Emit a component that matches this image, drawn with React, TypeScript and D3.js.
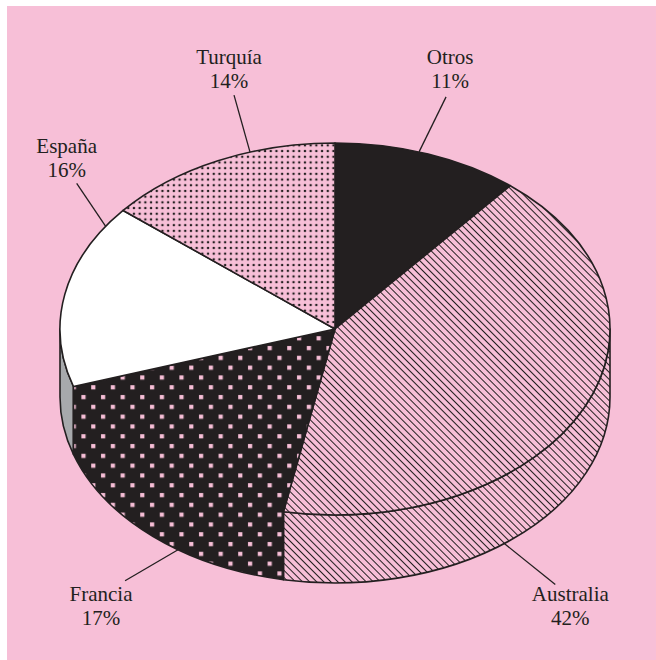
import * as d3 from 'd3';
import React, { useEffect, useRef } from 'react';

const categories = ['Otros', 'Australia', 'Francia', 'España', 'Turquía'];
const shares = [11, 42, 17, 16, 14];
const shareLabels = ['11%', '42%', '17%', '16%', '14%'];

const PINK = '#f7bfd7';
const INK = '#231f20';
const GREY = '#a7a9ac';

const fills = {
  Otros: INK,
  Australia: 'url(#hatch)',
  Francia: 'url(#squares)',
  España: '#ffffff',
  Turquía: 'url(#dots)',
};
// side colour where it differs from the top
const sideFills = { España: GREY };
// this slice is drawn as one shape with its side (no edge between)
const merged = 'Francia';

// leader: angle on the ellipse, which rim, end offset; text offset from the leader end
const labelLayout = {
  Otros: { angle: 17.8, rim: 'top', lx: 27, ly: -55, tx: 4, ty: -33 },
  Turquía: { angle: 342, rim: 'top', lx: -16, ly: -57, tx: -5, ty: -31 },
  España: { angle: 303.5, rim: 'top', lx: -29, ly: -43, tx: -10, ty: -30 },
  Francia: { angle: 214.8, rim: 'bottom', lx: -53, ly: 31, tx: -24, ty: 20 },
  Australia: { angle: 142, rim: 'bottom', lx: 51, ly: 41, tx: 15, ty: 16 },
};

const App = () => {
  const svgRef = useRef(null);

  useEffect(() => {
    const svg = d3.select(svgRef.current);
    svg.selectAll('*').remove();

    const cx = 335, cy = 329, rx = 275, ry = 186, depth = 68;
    const top = (a) => [cx + rx * Math.sin(a), cy - ry * Math.cos(a)];
    const bot = (a) => [cx + rx * Math.sin(a), cy + depth - ry * Math.cos(a)];
    const arcTo = (p, large, sweep) => `A${rx},${ry} 0 ${large} ${sweep} ${p[0]},${p[1]}`;

    const defs = svg.append('defs');
    const hatch = defs.append('pattern').attr('id', 'hatch').attr('patternUnits', 'userSpaceOnUse')
      .attr('width', 5).attr('height', 5).attr('patternTransform', 'rotate(45)');
    hatch.append('rect').attr('width', 5).attr('height', 5).attr('fill', PINK);
    hatch.append('line').attr('x1', 0).attr('x2', 5).attr('y1', 2.5).attr('y2', 2.5)
      .attr('stroke', INK).attr('stroke-width', 1);

    const dots = defs.append('pattern').attr('id', 'dots').attr('patternUnits', 'userSpaceOnUse')
      .attr('width', 5.7).attr('height', 5.7);
    dots.append('rect').attr('width', 5.7).attr('height', 5.7).attr('fill', PINK);
    dots.append('circle').attr('cx', 2.85).attr('cy', 2.85).attr('r', 1.25).attr('fill', INK);

    const sq = defs.append('pattern').attr('id', 'squares').attr('patternUnits', 'userSpaceOnUse')
      .attr('width', 19.6).attr('height', 19.6);
    sq.append('rect').attr('width', 19.6).attr('height', 19.6).attr('fill', INK);
    [[3, 3], [12.8, 12.8]].forEach(([x, y]) => {
      sq.append('rect').attr('x', x).attr('y', y).attr('width', 4.2).attr('height', 4.2)
        .attr('fill', PINK);
    });

    svg.append('rect').attr('x', 7).attr('y', 6).attr('width', 649).attr('height', 654).attr('fill', PINK);

    const arcs = d3.pie().sort(null).startAngle(0).endAngle(2 * Math.PI)(shares);
    const slices = arcs.map((d, i) => ({ ...d, name: categories[i] }));

    const g = svg.append('g').attr('stroke', INK).attr('stroke-width', 1.6).attr('stroke-linejoin', 'round');

    // side walls (front half only)
    slices.forEach((d) => {
      if (d.name === merged) return;
      const s = Math.max(d.startAngle, Math.PI / 2);
      const e = Math.min(d.endAngle, 1.5 * Math.PI);
      if (e <= s) return;
      const p = top(s), q = top(e), r = bot(e), t = bot(s);
      g.append('path')
        .attr('d', `M${p}${arcTo(q, 0, 1)}L${r}${arcTo(t, 0, 0)}Z`)
        .attr('fill', sideFills[d.name] || fills[d.name]);
    });

    // top faces
    slices.forEach((d) => {
      const p0 = top(d.startAngle), p1 = top(d.endAngle);
      const large = d.endAngle - d.startAngle > Math.PI ? 1 : 0;
      let path;
      if (d.name === merged) {
        const b0 = bot(d.startAngle), b1 = bot(d.endAngle);
        path = `M${cx},${cy}L${p0}L${b0}${arcTo(b1, large, 1)}L${p1}Z`;
      } else {
        path = `M${cx},${cy}L${p0}${arcTo(p1, large, 1)}Z`;
      }
      g.append('path').attr('d', path).attr('fill', fills[d.name]);
    });

    // labels
    const lab = svg.append('g').attr('font-family', '"Liberation Serif", "Times New Roman", serif')
      .attr('font-size', 21).attr('fill', INK).attr('text-anchor', 'middle');
    categories.forEach((name, i) => {
      const L = labelLayout[name];
      const a = (L.angle * Math.PI) / 180;
      const [x0, y0] = L.rim === 'top' ? top(a) : bot(a);
      const x1 = x0 + L.lx, y1 = y0 + L.ly;
      svg.append('line').attr('x1', x0).attr('y1', y0).attr('x2', x1).attr('y2', y1)
        .attr('stroke', INK).attr('stroke-width', 1.3);
      const t = lab.append('text').attr('x', x1 + L.tx).attr('y', y1 + L.ty);
      t.append('tspan').attr('x', x1 + L.tx).text(name);
      t.append('tspan').attr('x', x1 + L.tx).attr('dy', 24).text(shareLabels[i]);
    });
  }, []);

  return (
    <svg ref={svgRef} width={656} height={660} style={{ position: 'absolute', left: 0, top: 0 }} />
  );
};

export default App;
